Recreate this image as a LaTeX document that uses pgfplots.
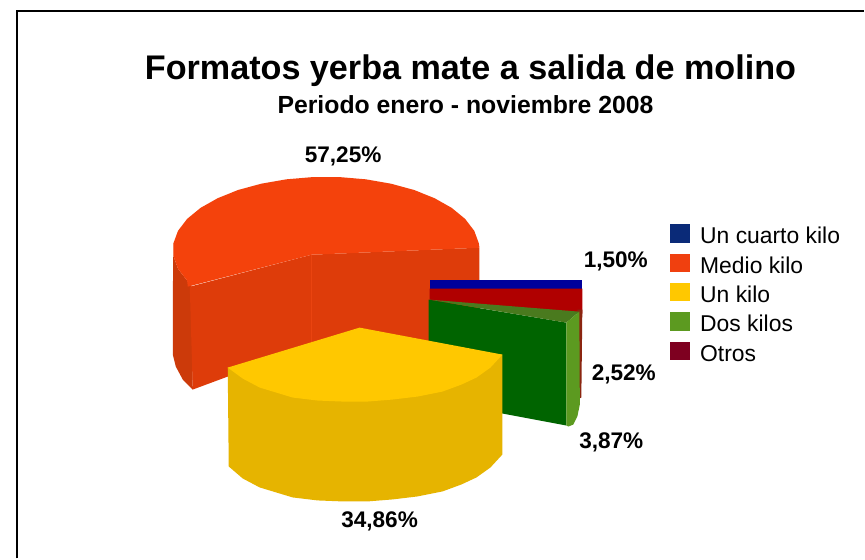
\documentclass[border=0pt]{standalone}
\usepackage{fontspec}
\setmainfont{Liberation Sans}
\usepackage{pgfplots}
\pgfplotsset{compat=1.18}

% slice colours
\definecolor{orangeTop}{HTML}{F4420C}
\definecolor{orangeWall}{HTML}{DE3C0A}
\definecolor{orangeOuter}{HTML}{CC3A0A}
\definecolor{orangeSeam}{HTML}{EA4410}
\definecolor{yellowTop}{HTML}{FFC800}
\definecolor{yellowSide}{HTML}{E6B400}
\definecolor{greenFront}{HTML}{006400}
\definecolor{greenTop}{HTML}{4A7A1E}
\definecolor{greenSide}{HTML}{5C9A20}
\definecolor{redFront}{HTML}{B00000}
\definecolor{redEdge}{HTML}{8B2510}
\definecolor{blueTop}{HTML}{00009C}
% legend colours
\definecolor{legNavy}{HTML}{0A2A78}
\definecolor{legOrange}{HTML}{F0400F}
\definecolor{legYellow}{HTML}{FFC800}
\definecolor{legGreen}{HTML}{5C9A20}
\definecolor{legRed}{HTML}{7E0020}

\newcommand{\valuefont}{\fontsize{22.6}{24}\selectfont\bfseries}

\begin{document}
\begin{tikzpicture}
\begin{axis}[
  scale only axis, width=865pt, height=559pt,
  xmin=0, xmax=865, ymin=0, ymax=559, y dir=reverse,
  hide axis, clip=false, no markers,
  every axis plot/.append style={sharp plot, draw=none, forget plot},
  legend image code/.code={\fill[#1] (0pt,-8pt) rectangle (20pt,10.5pt);},
  legend cell align=left,
  legend style={
    at={(670.5/865,1-224.5/559)}, anchor=north west,
    draw=none, fill=none, inner sep=0pt, outer sep=0pt,
    font=\fontsize{22.9}{24}\selectfont,
    nodes={inner sep=0pt, outer sep=0pt, text height=18.5pt, text depth=0pt},
    row sep=9.6pt, column sep=10.5pt,
  },
]
% page background and frame
\addplot[fill=white] coordinates {(0,0) (865,0) (865,559) (0,559)};
\addplot[draw=black, line width=2pt, fill=none] coordinates {(17.5,559) (17.5,11) (865,11)};

% Medio kilo: outer wall, inner walls, top face
\addplot[fill=orangeOuter] coordinates {
  (173.6,243) (173,300) (173,355) (176,367) (183,380) (193,390)
  (192,288) (187.4,281) (178.2,269) (173.6,256)};
\addplot[fill=orangeWall] coordinates {
  (190,287) (312,255) (480,248) (480,345) (312,352) (228,377) (193,390)};
\addplot[draw=orangeSeam, line width=1pt, fill=none] coordinates {(312,255) (312,345)};
\addplot[fill=orangeTop] coordinates {
  (188,287) (187.4,281) (178.2,269) (173.6,256) (173.6,243.6) (178.2,231.1)
  (187.4,219.1) (200.8,208.1) (218,198.4) (238.4,190.2) (261.6,183.9)
  (286.8,179.5) (313.1,177.3) (339.9,177.3) (366.2,179.5) (391.4,183.9)
  (414.6,190.2) (435,198.4) (452.2,208.1) (465.6,219.1) (474.8,231.1)
  (479.4,243.6) (480,248) (312,255)};

% Un cuarto kilo and Otros: thin slices seen behind the green one
\addplot[fill=blueTop] coordinates {(430,280) (583,280) (583,289) (430,289)};
\addplot[fill=redFront] coordinates {(430,289) (583,289) (583,314) (430,302)};
\addplot[fill=redEdge] coordinates {(578,310) (583,310) (582,398) (578,400)};

% Dos kilos
\addplot[fill=greenFront] coordinates {(429,300) (567,323) (567,426) (503,414) (429,400)};
\addplot[fill=greenTop] coordinates {(430,300) (580,312) (567,323)};
\addplot[fill=greenSide] coordinates {
  (567,323) (580,312) (580.5,405) (578,417) (574,425) (569,427) (567,426)};

% Un kilo: side wall, then top face
\addplot[fill=yellowSide] coordinates {
  (228,368) (503,355) (503,455) (491,468) (477,478) (462,485) (443,492)
  (418,497) (393,500) (368,502) (343,502) (318,501) (293,498) (260,488)
  (243,479) (229,467)};
\addplot[fill=yellowTop] coordinates {
  (228,368) (360,328) (503,355) (491,368) (477,378) (462,385) (443,392)
  (418,397) (393,400) (368,402) (343,402) (318,401) (293,398) (260,388)
  (243,379)};

% legend
\addlegendimage{fill=legNavy}
\addlegendentry{Un cuarto kilo}
\addlegendimage{fill=legOrange}
\addlegendentry{Medio kilo}
\addlegendimage{fill=legYellow}
\addlegendentry{Un kilo}
\addlegendimage{fill=legGreen}
\addlegendentry{Dos kilos}
\addlegendimage{fill=legRed}
\addlegendentry{Otros}

% titles
\node[anchor=base, inner sep=0pt] at (axis cs:471,80)
  {\fontsize{34.2}{36}\selectfont\bfseries Formatos yerba mate a salida de molino};
\node[anchor=base, inner sep=0pt] at (axis cs:466,114)
  {\fontsize{24.8}{26}\selectfont\bfseries Periodo enero - noviembre 2008};

% value labels
\node[anchor=base, inner sep=0pt] at (axis cs:343.5,163) {\valuefont 57,25\%};
\node[anchor=base, inner sep=0pt] at (axis cs:616.5,268) {\valuefont 1,50\%};
\node[anchor=base, inner sep=0pt] at (axis cs:624.5,381) {\valuefont 2,52\%};
\node[anchor=base, inner sep=0pt] at (axis cs:612,449) {\valuefont 3,87\%};
\node[anchor=base, inner sep=0pt] at (axis cs:380,528) {\valuefont 34,86\%};
\end{axis}
\end{tikzpicture}
\end{document}
